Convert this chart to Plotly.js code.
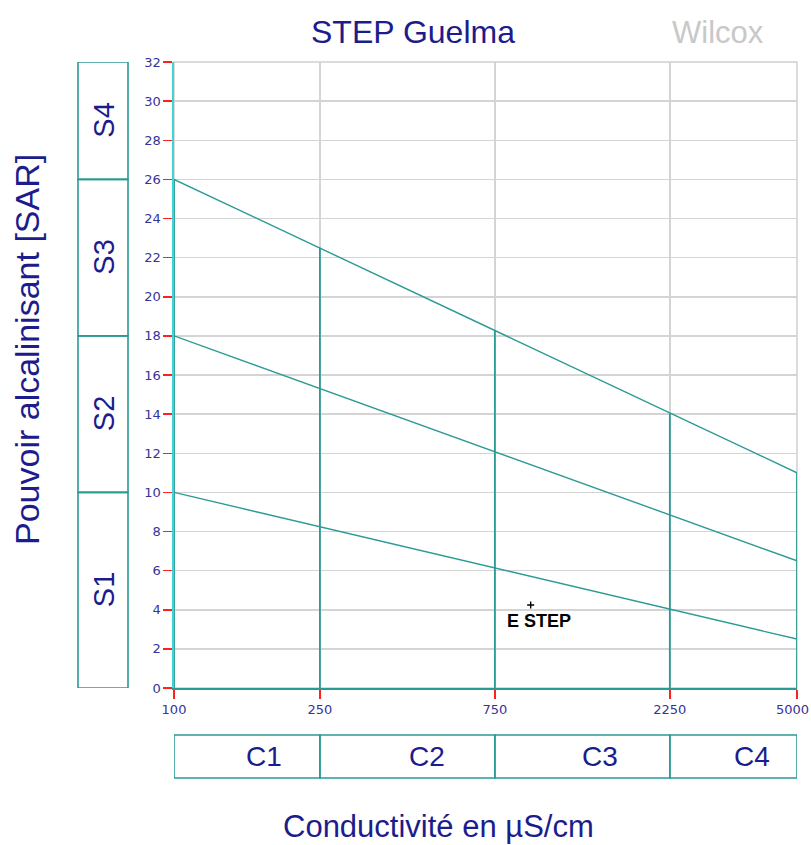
<!DOCTYPE html>
<html>
<head>
<meta charset="utf-8">
<script src="https://cdn.plot.ly/plotly-3.0.1.min.js"></script>
<style>html,body{margin:0;padding:0;background:#fff;}#chart{width:811px;height:845px;}</style>
</head>
<body>
<div id="chart"></div>
<script>
// ---- data ----
const classBounds = [100, 250, 750, 2250, 5000];          // conductivity class limits (µS/cm)
const classLabels = ['C1', 'C2', 'C3', 'C4'];
const sodiumBounds = [0, 10, 18, 26, 32];                  // SAR class limits
const sodiumLabels = ['S1', 'S2', 'S3', 'S4'];
const lineX = [100, 5000];
const lineLow = [10, 2.5];
const lineMid = [18, 6.5];
const lineHigh = [26, 11];
const verticalTops = [26, 22.5, 18.25, 14.05, 11];         // height of class separators
const sampleNames = ['E STEP'];
const sampleCond = [939];
const sampleSAR = [4.24];
const xTickVals = [100, 250, 750, 2250, 5000];
const xTickText = ['100', '250', '750', '2250', '5000'];

const teal = '#2b9a94';
const navy = '#1c1c8c';
const W = 811, L = 174, R = 797, T = 62, B = 688;
const px = p => (p - L) / (R - L);
const py = p => (B - p) / (B - T);
const TXT = 'Liberation Sans, Arial, sans-serif';
const tickFont = {family: 'DejaVu Sans, Verdana, sans-serif', size: 13, color: '#34349a'};

const traces = [];
[lineLow, lineMid, lineHigh].forEach(v => {
  traces.push({x: lineX, y: v, mode: 'lines', line: {color: teal, width: 1.4}, hoverinfo: 'skip', showlegend: false});
});
classBounds.forEach((c, i) => {
  traces.push({x: [c, c], y: [0, verticalTops[i]], mode: 'lines', line: {color: teal, width: 1.8}, hoverinfo: 'skip', showlegend: false});
});
traces.push({x: sampleCond, y: sampleSAR, mode: 'markers', marker: {symbol: 'cross-thin', size: 5, color: '#000', line: {color: '#000', width: 1.4}}, showlegend: false});

const shapes = [];
const annotations = [];
// gray frame of the plot area (top/right visible)
shapes.push({type: 'rect', xref: 'paper', yref: 'paper', x0: 0, x1: 1, y0: 0, y1: 1, line: {color: '#cfcfcf', width: 1.5}, layer: 'below'});
// S boxes (left)
for (let i = 0; i < sodiumLabels.length; i++) {
  shapes.push({type: 'rect', xref: 'paper', yref: 'y', x0: px(78), x1: px(128), y0: sodiumBounds[i], y1: sodiumBounds[i + 1], line: {color: teal, width: 1.6}, fillcolor: 'rgba(0,0,0,0)'});
  annotations.push({xref: 'paper', yref: 'y', x: px(104), y: (sodiumBounds[i] + sodiumBounds[i + 1]) / 2, xanchor: 'center', yanchor: 'middle', text: sodiumLabels[i], showarrow: false, textangle: -90, font: {family: TXT, size: 29, color: navy}});
}
// C boxes (bottom)
const cLabelPx = [264, 427, 600, 752];
for (let i = 0; i < classLabels.length; i++) {
  shapes.push({type: 'rect', xref: 'x', yref: 'paper', x0: classBounds[i], x1: classBounds[i + 1], y0: py(778), y1: py(735), line: {color: teal, width: 1.6}, fillcolor: 'rgba(0,0,0,0)'});
  annotations.push({xref: 'paper', yref: 'paper', x: px(cLabelPx[i]), y: py(756), xanchor: 'center', yanchor: 'middle', text: classLabels[i], showarrow: false, font: {family: TXT, size: 28, color: navy}});
}
// last x tick label (kept inside the page)
annotations.push({xref: 'paper', yref: 'paper', x: px(811), y: py(709), xanchor: 'right', yanchor: 'middle', text: xTickText[xTickText.length - 1], showarrow: false, font: tickFont});
// sample label
sampleNames.forEach((n, i) => {
  annotations.push({xref: 'x', yref: 'y', x: Math.log10(sampleCond[i]), y: sampleSAR[i], xanchor: 'center', yanchor: 'middle', text: '<b>' + n + '</b>', showarrow: false, xshift: 8, yshift: -16, font: {family: TXT, size: 18, color: '#000'}});
});
// titles
annotations.push({xref: 'paper', yref: 'paper', x: px(413), y: py(32), xanchor: 'center', yanchor: 'middle', text: 'STEP Guelma', showarrow: false, font: {family: TXT, size: 32, color: navy}});
annotations.push({xref: 'paper', yref: 'paper', x: px(718), y: py(33), xanchor: 'center', yanchor: 'middle', text: 'Wilcox', showarrow: false, font: {family: TXT, size: 31, color: '#c8c8c8'}});
annotations.push({xref: 'paper', yref: 'paper', x: px(27), y: py(350), xanchor: 'center', yanchor: 'middle', text: 'Pouvoir alcalinisant [SAR]', textangle: -90, showarrow: false, font: {family: TXT, size: 34, color: navy}});
annotations.push({xref: 'paper', yref: 'paper', x: px(438), y: py(826), xanchor: 'center', yanchor: 'middle', text: 'Conductivité en µS/cm', showarrow: false, font: {family: TXT, size: 31, color: navy}});

const layout = {
  width: W, height: 845,
  margin: {l: L, r: W - R, t: T, b: 845 - B, pad: 0},
  paper_bgcolor: '#fff', plot_bgcolor: '#fff',
  showlegend: false,
  xaxis: {
    type: 'log', range: [Math.log10(100), Math.log10(5000)],
    tickvals: xTickVals, ticktext: xTickText,
    ticks: 'outside', ticklen: 9, tickcolor: '#ff2020', tickwidth: 1.5,
    showgrid: true, gridcolor: '#d4d4d4', gridwidth: 1.5,
    showline: true, linecolor: teal, linewidth: 1.6,
    zeroline: false,
    tickfont: tickFont,
    fixedrange: true
  },
  yaxis: {
    range: [0, 32], dtick: 2, tick0: 0,
    ticks: 'outside', ticklen: 9, tickcolor: '#ff2020', tickwidth: 1.5,
    showgrid: true, gridcolor: '#d4d4d4', gridwidth: 1.5,
    showline: true, linecolor: '#40d4d4', linewidth: 1.6,
    zeroline: false,
    tickfont: tickFont,
    fixedrange: true
  },
  shapes: shapes,
  annotations: annotations
};
Plotly.newPlot('chart', traces, layout, {staticPlot: true, displayModeBar: false});
</script>
</body>
</html>
